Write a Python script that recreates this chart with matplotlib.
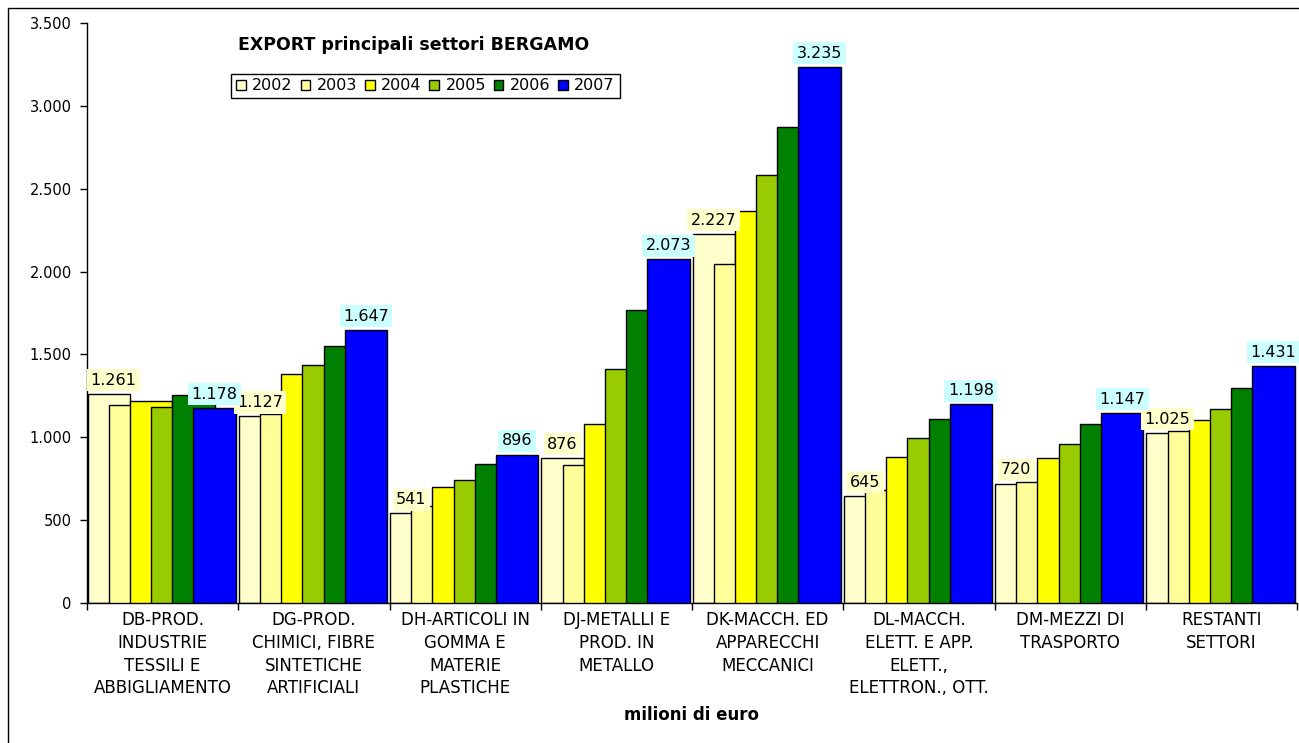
import matplotlib
matplotlib.use("Agg")
import matplotlib.pyplot as plt
from matplotlib.patches import Rectangle
from matplotlib.ticker import FuncFormatter, FixedLocator
import numpy as np

plt.rcParams['font.family'] = ['DejaVu Sans']

categories = [
    "DB-PROD.\nINDUSTRIE\nTESSILI E\nABBIGLIAMENTO",
    "DG-PROD.\nCHIMICI, FIBRE\nSINTETICHE\nARTIFICIALI",
    "DH-ARTICOLI IN\nGOMMA E\nMATERIE\nPLASTICHE",
    "DJ-METALLI E\nPROD. IN\nMETALLO",
    "DK-MACCH. ED\nAPPARECCHI\nMECCANICI",
    "DL-MACCH.\nELETT. E APP.\nELETT.,\nELETTRON., OTT.",
    "DM-MEZZI DI\nTRASPORTO",
    "RESTANTI\nSETTORI",
]
years = ["2002", "2003", "2004", "2005", "2006", "2007"]

v2002 = [1261, 1127, 541, 876, 2227, 645, 720, 1025]
v2003 = [1193, 1140, 584, 831, 2045, 680, 729, 1040]
v2004 = [1217, 1384, 697, 1082, 2364, 884, 876, 1102]
v2005 = [1183, 1438, 743, 1410, 2580, 993, 957, 1170]
v2006 = [1255, 1553, 840, 1768, 2875, 1110, 1082, 1295]
v2007 = [1178, 1647, 896, 2073, 3235, 1198, 1147, 1431]
series = [v2002, v2003, v2004, v2005, v2006, v2007]

colors = ["#FFFFCC", "#FFFF99", "#FFFF00", "#99CC00", "#008000", "#0000FF"]
label_bg = {0: "#FFFFCC", 5: "#CCFFFF"}

W, H = 1299, 743
fig = plt.figure(figsize=(W / 100, H / 100), dpi=100)
ax = fig.add_axes([87 / W, 1 - 603 / H, (1297 - 87) / W, (603 - 23) / H])

n = len(categories)
step = 0.140
width = 0.280
start = 0.004

def fmt_it(v):
    return f"{int(v):,}".replace(",", ".")

for k, vals in enumerate(series):
    xs = np.arange(n) + start + k * step + width / 2
    ax.bar(xs, vals, width=width, color=colors[k], edgecolor="black",
           linewidth=1.0, label=years[k], zorder=2 + k)

texts = []
for k in (0, 5):
    xs = np.arange(n) + start + k * step + width / 2
    for x, v in zip(xs, series[k]):
        t = ax.annotate(fmt_it(v), (x, v), xytext=(0, 4.5), textcoords="offset points",
                        ha="center", va="bottom", fontsize=11.5, zorder=20,
                        bbox=dict(boxstyle="square,pad=0.22", fc=label_bg[k], ec="none"))
        texts.append(t)

ax.set_xlim(0, n)
ax.set_ylim(0, 3500)
ax.yaxis.set_major_locator(FixedLocator(np.arange(0, 3501, 500)))
ax.yaxis.set_major_formatter(FuncFormatter(lambda v, p: fmt_it(v)))
ax.tick_params(axis="y", direction="out", length=5, width=1, pad=6, labelsize=10.5)

ax.set_xticks(np.arange(n) + 0.5)
ax.set_xticklabels(categories, fontsize=12, linespacing=1.33, va="top")
ax.set_xticks(np.arange(n + 1), minor=True)
ax.tick_params(axis="x", which="major", length=0, pad=6)
ax.tick_params(axis="x", which="minor", direction="out", length=5, width=1)

for s in ("top", "right"):
    ax.spines[s].set_visible(False)
for s in ("left", "bottom"):
    ax.spines[s].set_linewidth(1.0)
    ax.spines[s].set_color("black")

fig.text((87 + 1297) / 2 / W, 1 - 715 / H, "milioni di euro", ha="center", va="center",
         fontsize=12, fontweight="bold")
fig.text(414 / W, 1 - 45 / H, "EXPORT principali settori BERGAMO", ha="center",
         va="center", fontsize=12.5, fontweight="bold")

leg = fig.legend(loc="center", bbox_to_anchor=(425.5 / W, 1 - 86 / H), ncol=6,
                 fontsize=11.5, frameon=True, fancybox=False, framealpha=1,
                 edgecolor="black", handlelength=0.6, handleheight=0.6,
                 handletextpad=0.4, columnspacing=0.5, borderpad=0.3,
                 borderaxespad=0)
leg.get_frame().set_linewidth(1.0)

# outer chart frame
fig.patches.append(Rectangle((8 / W, -0.05), 1.2, 1 - 8 / H + 0.05,
                             transform=fig.transFigure, fill=False,
                             edgecolor="black", linewidth=1.0))

# keep data labels inside the plot area
fig.canvas.draw()
renderer = fig.canvas.get_renderer()
ax_left = ax.get_window_extent(renderer).x0
for t in texts:
    bb = t.get_bbox_patch().get_window_extent(renderer)
    if bb.x0 < ax_left:
        shift = ax_left - bb.x0
        t.set_position((t.xyann[0] + shift * 72 / fig.dpi, t.xyann[1]))

fig.savefig("out.png", dpi=100)
